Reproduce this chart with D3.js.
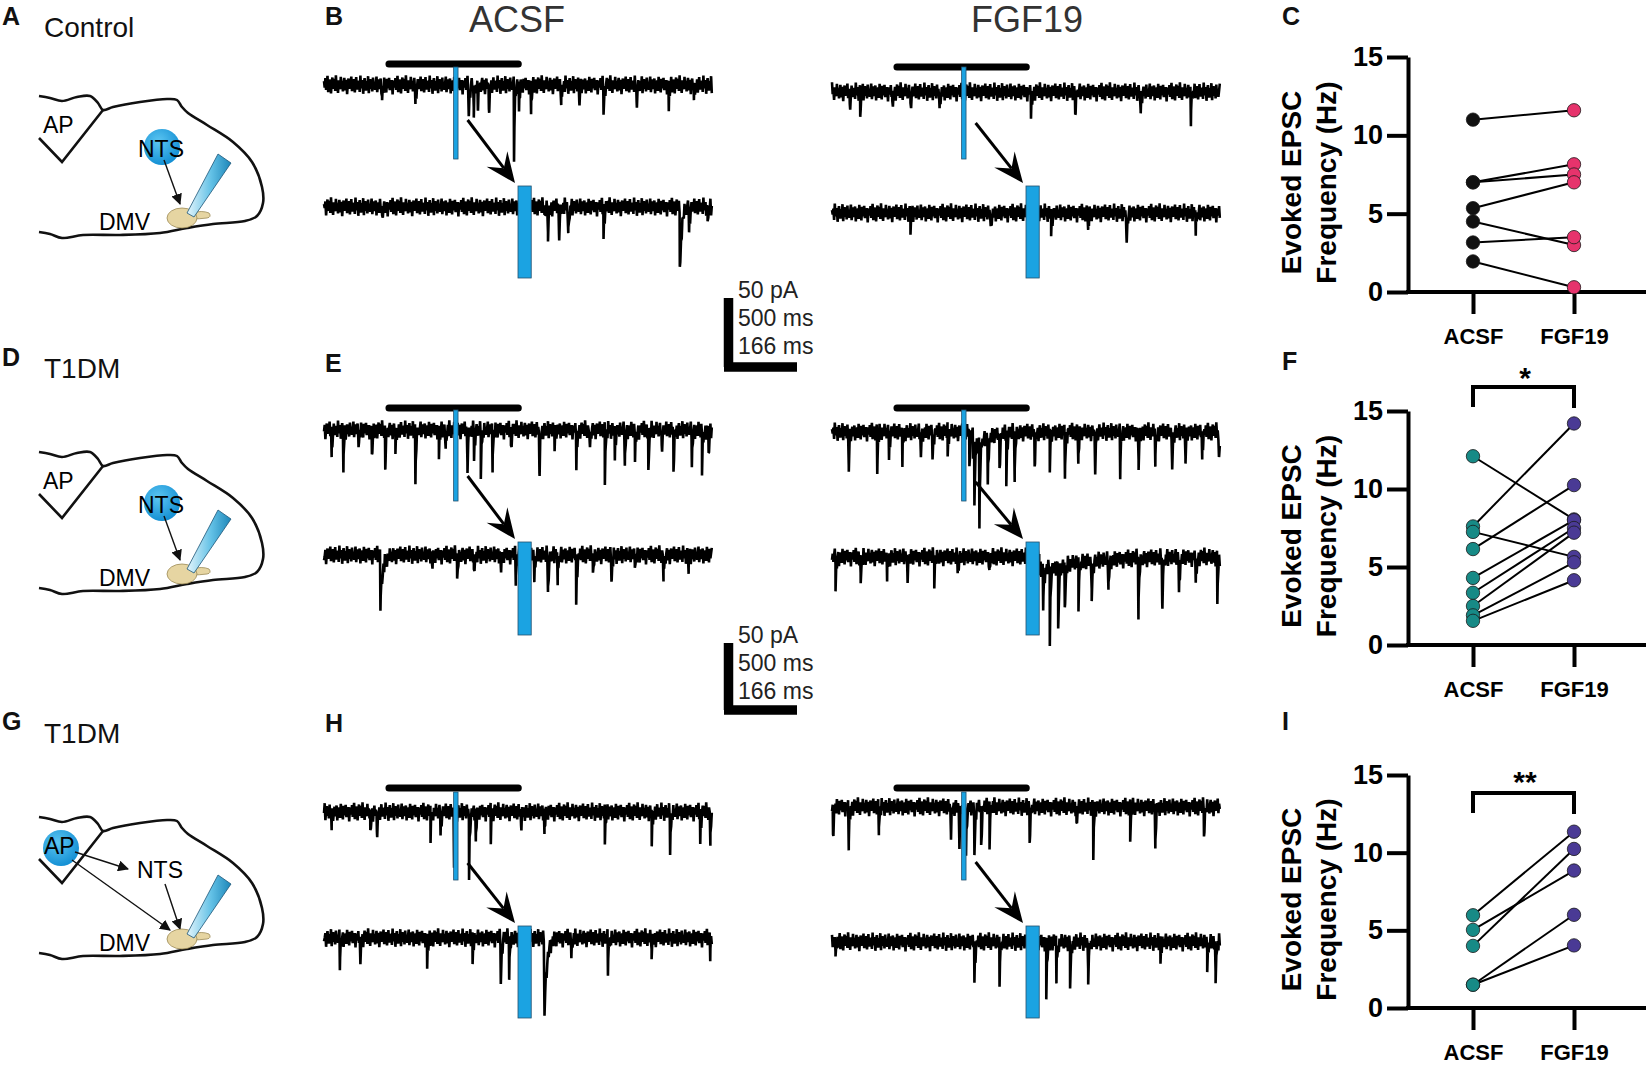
<!DOCTYPE html>
<html>
<head>
<meta charset="UTF-8">
<script src="https://cdn.jsdelivr.net/npm/d3@7"></script>
<style>
body{ margin:0; background:#fff; font-family:"Liberation Sans", Arial, Helvetica, sans-serif; }
svg text{ font-family:"Liberation Sans", Arial, Helvetica, sans-serif; }
</style>
</head>
<body>
<script>

// ---- summary data (evoked EPSC frequency, Hz) ----
var categories = ["ACSF", "FGF19"];
var controlACSF  = [11.0, 7.0, 7.0, 5.35, 4.5, 3.16, 1.95];
var controlFGF19 = [11.6, 8.15, 7.5, 7.0, 3.0, 3.5, 0.3];
var ntsACSF  = [12.1, 7.6, 7.25, 6.15, 4.3, 3.35, 2.5, 1.9, 1.55];
var ntsFGF19 = [8.05, 14.2, 5.65, 10.25, 8.0, 7.5, 7.2, 5.3, 4.15];
var apACSF  = [5.97, 5.03, 4.0, 1.5, 1.5];
var apFGF19 = [11.35, 8.85, 10.24, 6.0, 4.03];
var yTicks = [0, 5, 10, 15];

// ---- recordings: events [time ms, amplitude pA, (decay ms)] ----
var overviewMs = 2640, zoomMs = 880;
var windowStart = 442, stimMs = 882, stimDur = 30;

var bAcsfTop = [[395,10],[622,12],[985,23],[1019,19],[1047,17],[1122,22],[1293,47],[1327,17],[1409,18],[1614,14],[1737,14],[1902,22],[2127,14],[2346,16],[2517,10]];
var bAcsfZoom = [[132,10],[501,8],[508,19],[533,22],[554,19],[634,21],[807,47,4],[828,16],[870,8]];
var bFgfTop = [[121,12],[192,15],[410,12],[534,11],[732,12],[1354,19],[1655,17],[2100,15],[2442,17]];
var bFgfZoom = [[178,11],[360,10],[463,13],[497,15],[581,11],[668,22],[825,11]];

var eAcsfTop = [[52,17],[132,25],[235,14],[326,21],[417,27],[486,16],[622,34],[782,18],[828,14],[976,26],[1021,21],[1067,34],[1147,23],[1272,14],[1466,32],[1569,11],[1717,28],[1808,14],[1911,34],[1979,20],[2047,24],[2116,23],[2207,32],[2298,14],[2378,31],[2503,25],[2572,32],[2617,20]];
var eAcsfZoom = [[128,32,6],[245,9],[302,19],[340,15],[401,11],[435,16],[477,19],[508,25],[530,16],[572,32],[610,15],[652,20],[705,11],[770,15],[827,9]];
var eFgfTop = [[114,25],[308,26],[388,18],[479,19],[604,17],[684,19],[787,15],[935,26],[960,12,90],[969,37],[1003,55],[1060,33],[1140,26],[1186,35],[1243,28],[1379,26],[1482,24],[1585,28],[1676,21],[1790,29],[1961,27],[2086,23],[2200,19],[2314,27],[2405,19],[2519,17],[2633,20]];
var eFgfZoom = [[8,23],[65,16],[125,12],[171,15],[232,16],[285,11],[357,11],[460,14],[470,9,100],[479,25],[494,48],[513,47],[528,34],[559,27],[589,25],[627,20],[695,36],[749,34],[787,25],[825,18],[874,29]];

var hAcsfTop = [[52,9],[315,17],[360,19],[725,17],[793,15],[885,33],[987,47],[1033,19],[1135,17],[1341,12],[1500,14],[1911,20],[2230,23],[2355,30],[2560,21],[2629,20]];
var hAcsfZoom = [[36,17],[82,17],[234,19],[337,15],[401,33],[420,23],[462,10],[500,50,6],[561,15],[644,20],[743,10],[876,10]];
var hFgfTop = [[7,23],[114,26],[319,16],[809,20],[866,27],[912,34],[969,38],[1015,29],[1072,23],[1345,26],[1664,15],[1778,32],[2029,21],[2200,27],[2531,21]];
var hFgfZoom = [[8,12],[323,26],[380,24],[460,30],[486,37],[509,24],[540,33],[581,24],[745,12],[851,21],[870,25]];

// baseline jitter (pA)
var jitter = [1.2,-0.8,2.1,-1.5,0.4,2.8,-2.2,0.9,-0.3,1.7,-2.6,0.6,2.3,-1.1,-0.2,1.9,-1.8,3.0,-0.7,0.5,-2.4,1.4,0.1,-1.3,2.5,-0.9,1.1,-2.0,0.8,2.2,-1.6,-0.4,1.6,-2.8,0.3,2.0,-1.2,0.7,-0.1,2.6,-1.9,1.0,-0.6,1.8,-2.3,0.2,2.4,-1.4,0.9,-0.5,1.3,-2.1,2.9,-1.0,0.0,1.5,-2.7,0.6,2.1,-0.8,-1.7,1.2,-0.3,2.7,-2.5,0.4,1.8,-1.2,0.8,-2.0,2.3,-0.9,1.0,-1.5,0.5,2.6,-2.2,-0.1,1.7,-1.3,0.7,2.0,-2.6,1.1,-0.4,1.4,-1.8,2.5,-0.6,0.3,-2.3,1.9,-1.0,0.6,2.2,-1.6,0.2,-0.7,1.5,-2.9,1.0];
var jitterGain = 2.2;

var width = 1646, height = 1066;
var svg = d3.select("body").append("svg").attr("width", width).attr("height", height);

var defs = svg.append("defs");
var rg = defs.append("radialGradient").attr("id","blob").attr("cx","40%").attr("cy","35%").attr("r","65%");
rg.append("stop").attr("offset","0%").attr("stop-color","#5cc6f2");
rg.append("stop").attr("offset","100%").attr("stop-color","#1590d4");
var pg = defs.append("linearGradient").attr("id","pip").attr("x1","0%").attr("y1","0%").attr("x2","100%").attr("y2","0%");
pg.append("stop").attr("offset","0%").attr("stop-color","#e3f5fc");
pg.append("stop").attr("offset","55%").attr("stop-color","#63c1e6");
pg.append("stop").attr("offset","100%").attr("stop-color","#1c86b9");
defs.append("marker").attr("id","sarrow").attr("viewBox","0 0 10 10").attr("refX",9).attr("refY",5)
    .attr("markerWidth",11).attr("markerHeight",11).attr("orient","auto").attr("markerUnits","userSpaceOnUse")
    .append("path").attr("d","M0,0 L10,5 L0,10 z").attr("fill","#111");

function label(x, y, txt, size, weight, anchor, fill){
    return svg.append("text").attr("x",x).attr("y",y).attr("font-size",size)
        .attr("font-weight",weight||"normal").attr("text-anchor",anchor||"start")
        .attr("fill",fill||"#111").text(txt);
}

// panel letters
[["A",2,25],["B",325,25],["C",1282,25],["D",2,366],["E",325,372],["F",1282,370],["G",2,730],["H",325,732],["I",1282,730]]
  .forEach(function(p){ label(p[1],p[2],p[0],25,"bold"); });

label(44,37,"Control",28);
label(44,378,"T1DM",28);
label(44,743,"T1DM",28);
label(517,32,"ACSF",36,"normal","middle","#333");
label(1027,32,"FGF19",36,"normal","middle","#333");

// ---- schematics ----
var outlinePts = [[39,96],[50,98],[62,101],[77,97],[90,96],[98,103],[103,110],[113,107],[140,102],[167,99],[177,100],[182,107],[188,113],[207,125],[233,142],[252,162],[262,187],[263,203],[257,216],[245,221],[213,224],[187,228],[160,233],[120,235],[83,235],[62,238],[50,234],[39,232]];
var wedgePts = [[39,138],[62,162],[103,110]];
function schematic(dy, fromAP){
    var g = svg.append("g").attr("transform","translate(0,"+dy+")");
    var ln = d3.line().curve(d3.curveCatmullRom);
    g.append("path").attr("d", ln(outlinePts)).attr("fill","none").attr("stroke","#111").attr("stroke-width",2.6);
    g.append("path").attr("d", d3.line()(wedgePts)).attr("fill","none").attr("stroke","#111").attr("stroke-width",2.6);
    if (fromAP){
        g.append("circle").attr("cx",61).attr("cy",127).attr("r",18).attr("fill","url(#blob)");
        g.append("text").attr("x",44).attr("y",133).attr("font-size",23).text("AP");
        g.append("text").attr("x",137).attr("y",157).attr("font-size",23).text("NTS");
        g.append("line").attr("x1",75).attr("y1",131).attr("x2",128).attr("y2",148).attr("stroke","#111").attr("stroke-width",1.4).attr("marker-end","url(#sarrow)");
        g.append("line").attr("x1",72).attr("y1",139).attr("x2",170).attr("y2",209).attr("stroke","#111").attr("stroke-width",1.4).attr("marker-end","url(#sarrow)");
        g.append("line").attr("x1",165).attr("y1",163).attr("x2",180).attr("y2",208).attr("stroke","#111").attr("stroke-width",1.4).attr("marker-end","url(#sarrow)");
    } else {
        g.append("text").attr("x",43).attr("y",133).attr("font-size",23).text("AP");
        g.append("circle").attr("cx",162).attr("cy",147).attr("r",18).attr("fill","url(#blob)");
        g.append("text").attr("x",138).attr("y",157).attr("font-size",23).text("NTS");
        g.append("line").attr("x1",164).attr("y1",160).attr("x2",180).attr("y2",204).attr("stroke","#111").attr("stroke-width",1.4).attr("marker-end","url(#sarrow)");
    }
    g.append("text").attr("x",99).attr("y",230).attr("font-size",23).text("DMV");
    g.append("path").attr("d","M192,213 q10,-3 17,0 q3,4 -2,5 q-8,1 -15,1 z").attr("fill","#e6d5a2").attr("stroke","#9c8a55").attr("stroke-width",0.8);
    g.append("ellipse").attr("cx",182).attr("cy",218).attr("rx",15).attr("ry",10).attr("fill","#e6d5a2").attr("stroke","#9c8a55").attr("stroke-width",0.8);
    g.append("path").attr("d","M218,154 L231,163 L194,217 L187,213 Z").attr("fill","url(#pip)").attr("stroke","#1d5577").attr("stroke-width",0.8);
}
schematic(0,false);
schematic(356,false);
schematic(721,true);

// ---- traces ----
var traceW = 388, pxPerPA = 1.48;
var colX = [324, 832];
var rows = [
  {bar:[64,67], thin:[67,159], wide:[186,278], top:[85,92],  zoom:[207,213], arrowY:[120,123]},
  {bar:[408,408], thin:[410,501], wide:[542,635], top:[430,432], zoom:[555,557], arrowY:[476,482]},
  {bar:[788,788], thin:[792,880], wide:[926,1018], top:[812,807], zoom:[938,942], arrowY:[863,862]}
];
var recs = [
  [[bAcsfTop,bAcsfZoom],[bFgfTop,bFgfZoom]],
  [[eAcsfTop,eAcsfZoom],[eFgfTop,eFgfZoom]],
  [[hAcsfTop,hAcsfZoom],[hFgfTop,hFgfZoom]]
];

function samples(events, dur, tau, off){
    var step = dur / traceW * 0.7;
    var ts = d3.range(0, dur, step).concat(events.map(function(e){ return e[0]; })).sort(d3.ascending);
    return ts.map(function(t, i){
        var v = jitterGain * jitter[(i + off) % jitter.length];
        events.forEach(function(e){
            var d = t - e[0];
            if (d >= 0) v -= e[1] * Math.exp(-d / (e[2] || tau));
        });
        return [t, v];
    });
}

function drawTrace(events, dur, x0, base, tau, off){
    var x = d3.scaleLinear().domain([0, dur]).range([x0, x0 + traceW]);
    var y = d3.scaleLinear().domain([-60, 10]).range([base + 60*pxPerPA, base - 10*pxPerPA]);
    var line = d3.line().x(function(d){ return x(d[0]); }).y(function(d){ return y(d[1]); });
    svg.append("path").attr("d", line(samples(events, dur, tau, off)))
        .attr("fill","none").attr("stroke","#000").attr("stroke-width",2.6).attr("stroke-linejoin","bevel");
    return x;
}

function arrowHead(x1,y1,x2,y2){
    var a = Math.atan2(y2-y1, x2-x1), L = 30, W = 13;
    var bx = x2 - L*Math.cos(a), by = y2 - L*Math.sin(a);
    var mx = x2 - L*0.62*Math.cos(a), my = y2 - L*0.62*Math.sin(a);
    var px = -Math.sin(a), py = Math.cos(a);
    svg.append("line").attr("x1",x1).attr("y1",y1).attr("x2",mx).attr("y2",my).attr("stroke","#000").attr("stroke-width",3);
    svg.append("path").attr("d","M"+x2+","+y2+" L"+(bx+px*W)+","+(by+py*W)+" L"+mx+","+my+" L"+(bx-px*W)+","+(by-py*W)+" Z").attr("fill","#000");
}

rows.forEach(function(r, ri){
    [0,1].forEach(function(ci){
        var x0 = colX[ci];
        var xo = d3.scaleLinear().domain([0, overviewMs]).range([x0, x0 + traceW]);
        var xz = d3.scaleLinear().domain([0, zoomMs]).range([x0, x0 + traceW]);
        // window bar
        svg.append("line").attr("x1", xo(windowStart)).attr("x2", xo(windowStart + zoomMs))
            .attr("y1", r.bar[ci]).attr("y2", r.bar[ci]).attr("stroke","#000").attr("stroke-width",7).attr("stroke-linecap","round");
        drawTrace(recs[ri][ci][0], overviewMs, x0, r.top[ci], 5, ri*31 + ci*17);
        drawTrace(recs[ri][ci][1], zoomMs, x0, r.zoom[ci], 2, ri*23 + ci*41 + 7);
        // stimulus marks
        svg.append("rect").attr("x", xo(stimMs)).attr("y", r.thin[0]).attr("width", xo(stimMs+stimDur)-xo(stimMs))
            .attr("height", r.thin[1]-r.thin[0]).attr("fill","#1ba3e2").attr("stroke","#24506e").attr("stroke-width",0.8);
        var wx = xz(stimMs - windowStart);
        svg.append("rect").attr("x", wx).attr("y", r.wide[0]).attr("width", xz(stimMs - windowStart + stimDur) - wx)
            .attr("height", r.wide[1]-r.wide[0]).attr("fill","#1ba3e2").attr("stroke","#24506e").attr("stroke-width",0.8);
        arrowHead(xo(stimMs)+14, r.arrowY[ci], wx - 3, r.wide[0] - 3);
    });
});

// scale bars
[[298,372],[643,715]].forEach(function(s){
    svg.append("path").attr("d","M728.5,"+s[0]+" L728.5,"+(s[1]-5)+" M724,"+(s[1]-5)+" L797,"+(s[1]-5))
        .attr("fill","none").attr("stroke","#000").attr("stroke-width",9.5);
    ["50 pA","500 ms","166 ms"].forEach(function(t,i){
        svg.append("text").attr("x",738).attr("y",s[0]+i*28).attr("font-size",23)
            .attr("fill","#222").text(t);
    });
});

// ---- paired frequency plots ----
function pairedPlot(yTop, yZero, acsf, fgf, colA, colB, stars){
    var y = d3.scaleLinear().domain([0, 15]).range([yZero, yTop]);
    var x = d3.scalePoint().domain(categories).range([1473, 1574]);
    var ax = svg.append("g").attr("transform","translate(1408,0)")
        .call(d3.axisLeft(y).tickValues(yTicks).tickSize(21).tickSizeOuter(0).tickPadding(4));
    ax.selectAll("path,line").attr("stroke","#000").attr("stroke-width",4);
    ax.selectAll("text").attr("font-size",27).attr("font-weight","bold").attr("fill","#000")
        .style("font-family","'Liberation Sans', Arial, sans-serif");
    svg.append("line").attr("x1",1406).attr("x2",1646).attr("y1",yZero).attr("y2",yZero).attr("stroke","#000").attr("stroke-width",4);
    var bx = svg.append("g").attr("transform","translate(0,"+yZero+")")
        .call(d3.axisBottom(x).tickSize(22).tickPadding(14));
    bx.select(".domain").remove();
    bx.selectAll("line").attr("stroke","#000").attr("stroke-width",4);
    bx.selectAll("text").attr("font-size",22).attr("font-weight","bold").attr("fill","#000")
        .style("font-family","'Liberation Sans', Arial, sans-serif");

    var mid = (yTop + yZero)/2 + 8;
    [["Evoked EPSC",1301],["Frequency (Hz)",1336]].forEach(function(t){
        svg.append("text").attr("transform","translate("+t[1]+","+mid+") rotate(-90)")
            .attr("text-anchor","middle").attr("font-size",28).attr("font-weight","bold").attr("fill","#000").text(t[0]);
    });

    var pairs = acsf.map(function(v,i){ return [v, fgf[i]]; });
    svg.append("g").selectAll("line").data(pairs).enter().append("line")
        .attr("x1",x("ACSF")).attr("x2",x("FGF19"))
        .attr("y1",function(d){ return y(d[0]); }).attr("y2",function(d){ return y(d[1]); })
        .attr("stroke","#000").attr("stroke-width",2);
    svg.append("g").selectAll("circle").data(acsf).enter().append("circle")
        .attr("cx",x("ACSF")).attr("cy",function(d){ return y(d); }).attr("r",6.7)
        .attr("fill",colA).attr("stroke","#1a1a1a").attr("stroke-width",0.8);
    svg.append("g").selectAll("circle").data(fgf).enter().append("circle")
        .attr("cx",x("FGF19")).attr("cy",function(d){ return y(d); }).attr("r",6.7)
        .attr("fill",colB).attr("stroke","#1a1a1a").attr("stroke-width",0.8);

    if (stars){
        var bt = stars.top;
        svg.append("path").attr("d","M"+x("ACSF")+","+(bt+20)+" L"+x("ACSF")+","+bt+" L"+x("FGF19")+","+bt+" L"+x("FGF19")+","+(bt+21))
            .attr("fill","none").attr("stroke","#000").attr("stroke-width",4);
        svg.append("text").attr("x",1525).attr("y",stars.textY).attr("text-anchor","middle")
            .attr("font-size",30).attr("font-weight","bold").text(stars.txt);
    }
}

pairedPlot(57, 292, controlACSF, controlFGF19, "#111111", "#e6336c", null);
pairedPlot(411, 645, ntsACSF, ntsFGF19, "#178a86", "#4a3a95", {top:387, textY:388, txt:"*"});
pairedPlot(775, 1008, apACSF, apFGF19, "#178a86", "#4a3a95", {top:793, textY:792, txt:"**"});

</script>
</body>
</html>
